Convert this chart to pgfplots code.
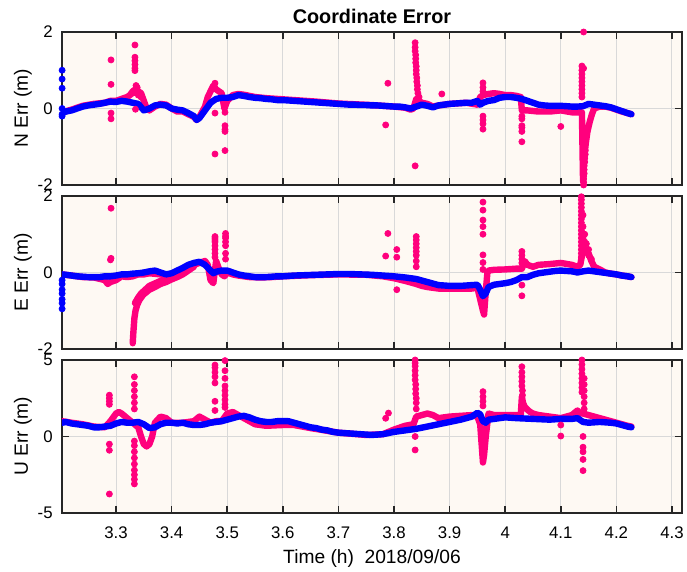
\documentclass[border=0pt]{standalone}
\usepackage{fontspec}
\setmainfont{Liberation Sans}
\usepackage{pgfplots}
\pgfplotsset{compat=1.18}
\definecolor{pk}{RGB}{255,0,125}
\definecolor{bl}{RGB}{0,0,255}
\definecolor{bgc}{RGB}{254,249,243}
\definecolor{axc}{RGB}{38,38,38}
\pgfplotsset{
  panel/.style={
    scale only axis, width=310pt, height=76.5pt,
    xmin=3.2028, xmax=4.318,
    xtick={3.3,3.4,3.5,3.6,3.7,3.8,3.9,4,4.1,4.2,4.3},
    xticklabels={},
    axis background/.style={fill=bgc},
    axis line style={axc, line width=0.75pt},
    tick style={axc, line width=0.75pt},
    major tick length=3.5pt,
    tick align=inside,
    grid=major,
    major grid style={black!15, line width=0.5pt},
    yticklabel style={font=\fontsize{8.4}{10}\selectfont, anchor=east, inner xsep=0pt, xshift=-4.5pt},
    xticklabel style={font=\fontsize{8.4}{10}\selectfont, anchor=base, yshift=-13pt},
    every axis y label/.style={at={(axis description cs:-0.0629,0.5)}, rotate=90, anchor=center, font=\fontsize{9.6}{11}\selectfont},
  },
  base/.style={line width=3.2pt, line join=round, line cap=round, no marks},
  dots/.style={only marks, mark=*, mark size=1.5pt, mark options={draw=none}},
}
\begin{document}
\begin{tikzpicture}
\path[use as bounding box] (-31pt,-29.5pt) rectangle (312.5pt,256.5pt);
% ---------------- N ----------------
\begin{axis}[panel, at={(0pt,164pt)}, anchor=south west,
  ymin=-2, ymax=2, ytick={-2,0,2}, yticklabels={-2,0,2},
  ylabel={N Err (m)},
  title={\textbf{Coordinate Error}},
  every axis title/.style={at={(axis description cs:0.5,1)}, anchor=base, yshift=4pt, font=\fontsize{9.9}{11}\selectfont}]
\addplot[pk, base] coordinates {
(3.203,-0.1)(3.22,-0.03)(3.24,0.07)(3.26,0.12)(3.28,0.15)(3.29,0.2)(3.30,0.2)(3.31,0.25)(3.32,0.3)(3.325,0.35)(3.33,0.45)(3.335,0.5)(3.34,0.45)(3.345,0.4)(3.35,0.2)(3.355,0.0)(3.36,-0.05)(3.37,0.05)(3.38,0.12)(3.39,0.1)(3.40,0.0)(3.41,-0.08)(3.42,-0.08)(3.43,-0.15)(3.44,-0.22)(3.445,-0.3)(3.45,-0.22)(3.46,0.05)(3.465,0.3)(3.47,0.45)(3.475,0.6)(3.48,0.5)(3.485,0.45)(3.49,0.4)(3.495,0.0)(3.50,0.2)(3.51,0.35)(3.52,0.38)(3.53,0.36)(3.54,0.33)(3.55,0.3)(3.57,0.27)(3.60,0.24)(3.63,0.21)(3.66,0.18)(3.70,0.13)(3.73,0.11)(3.76,0.09)(3.80,0.05)(3.82,0.02)(3.83,-0.03)(3.835,0.0)(3.84,0.25)(3.845,0.2)(3.85,0.15)(3.86,0.12)(3.87,0.05)(3.88,0.08)(3.90,0.12)(3.93,0.15)(3.95,0.1)(3.955,0.3)(3.96,0.35)(3.97,0.38)(3.98,0.4)(3.99,0.38)(4.00,0.35)(4.01,0.35)(4.02,0.33)(4.028,0.3)(4.03,-0.05)(4.04,-0.05)(4.06,-0.08)(4.08,-0.08)(4.10,-0.05)(4.12,-0.1)(4.13,-0.1)(4.138,-0.1)(4.14,-1.9)(4.142,-1.3)(4.145,-0.9)(4.148,-0.6)(4.152,-0.35)(4.156,-0.15)(4.16,0.0)(4.17,0.05)(4.18,0.05)(4.19,0.02)(4.20,-0.03)(4.21,-0.08)(4.22,-0.12)(4.227,-0.15)
};
\addplot[pk, dots] coordinates {
(3.291,1.27)(3.291,0.63)(3.291,-0.12)(3.291,-0.27)
(3.334,1.66)(3.334,1.34)(3.334,1.25)(3.334,1.15)(3.334,1.05)(3.334,0.99)(3.336,0.6)(3.338,0.55)(3.33,0.4)(3.34,0.35)(3.345,0.3)(3.335,-0.02)
(3.478,-0.12)(3.478,-1.19)(3.478,0.66)(3.496,-0.1)(3.496,-0.45)(3.496,-0.55)(3.496,-0.6)(3.496,-1.1)
(3.785,-0.43)(3.789,0.66)(3.886,0.38)
(3.838,1.72)(3.838,1.6)(3.838,1.5)(3.839,1.4)(3.839,1.3)(3.839,1.2)(3.84,1.1)(3.84,1.0)(3.84,0.9)(3.841,0.8)(3.841,0.7)(3.842,0.6)(3.842,0.5)(3.843,0.4)(3.845,0.3)(3.838,-1.5)
(3.96,0.67)(3.96,0.55)(3.96,0.45)(3.96,-0.2)(3.96,-0.3)(3.96,-0.4)(3.96,-0.54)
(4.03,-0.2)(4.03,-0.27)(4.03,-0.45)(4.03,-0.5)(4.03,-0.6)(4.03,-0.87)
(4.10,-0.47)
(4.138,1.11)(4.138,1.0)(4.138,0.9)(4.138,0.8)(4.138,0.7)(4.138,0.6)(4.138,0.5)(4.138,0.4)(4.138,0.3)(4.141,1.05)
(4.141,2.0)(4.141,-2.0)(4.141,-1.93)(4.141,-1.84)(4.141,-1.77)(4.142,-1.7)(4.142,-1.6)(4.142,-1.5)(4.143,-1.4)(4.143,-1.3)(4.144,-1.2)(4.144,-1.1)
};
\addplot[bl, base] coordinates {
(3.203,-0.12)(3.21,-0.08)(3.22,-0.05)(3.23,0.0)(3.24,0.05)(3.25,0.08)(3.26,0.1)(3.27,0.12)(3.28,0.15)(3.29,0.18)(3.30,0.17)(3.31,0.2)(3.32,0.18)(3.33,0.15)(3.34,0.12)(3.35,-0.05)(3.36,0.0)(3.37,0.08)(3.38,0.1)(3.39,0.08)(3.40,0.0)(3.41,-0.03)(3.42,-0.05)(3.43,-0.12)(3.44,-0.2)(3.445,-0.3)(3.45,-0.25)(3.46,-0.05)(3.47,0.15)(3.48,0.25)(3.49,0.28)(3.50,0.28)(3.51,0.3)(3.52,0.35)(3.53,0.33)(3.54,0.3)(3.55,0.28)(3.56,0.27)(3.57,0.25)(3.58,0.24)(3.59,0.22)(3.60,0.22)(3.61,0.21)(3.62,0.2)(3.63,0.19)(3.64,0.18)(3.65,0.17)(3.66,0.16)(3.67,0.15)(3.68,0.14)(3.69,0.13)(3.70,0.12)(3.71,0.11)(3.72,0.1)(3.73,0.1)(3.74,0.09)(3.75,0.09)(3.76,0.08)(3.77,0.08)(3.78,0.07)(3.79,0.06)(3.80,0.05)(3.81,0.05)(3.82,0.03)(3.83,0.0)(3.84,0.05)(3.85,0.1)(3.86,0.07)(3.87,0.03)(3.88,0.08)(3.89,0.1)(3.90,0.12)(3.91,0.13)(3.92,0.14)(3.93,0.15)(3.94,0.15)(3.95,0.2)(3.955,0.1)(3.96,0.15)(3.97,0.2)(3.98,0.22)(3.99,0.28)(4.00,0.3)(4.01,0.3)(4.02,0.28)(4.03,0.25)(4.04,0.2)(4.05,0.15)(4.06,0.1)(4.07,0.08)(4.08,0.07)(4.09,0.07)(4.10,0.07)(4.11,0.06)(4.12,0.05)(4.13,0.05)(4.14,0.06)(4.15,0.12)(4.16,0.1)(4.17,0.08)(4.18,0.06)(4.19,0.03)(4.20,-0.02)(4.21,-0.07)(4.22,-0.12)(4.227,-0.15)
};
\addplot[bl, dots] coordinates {
(3.203,1.0)(3.203,0.77)(3.203,0.53)(3.203,0.0)(3.203,-0.15)(3.203,-0.2)
};
\end{axis}
% ---------------- E ----------------
\begin{axis}[panel, at={(0pt,82pt)}, anchor=south west,
  ymin=-2, ymax=2, ytick={-2,0,2}, yticklabels={-2,0,2},
  ylabel={E Err (m)}]
\addplot[pk, base] coordinates {
(3.203,-0.05)(3.22,-0.08)(3.24,-0.12)(3.26,-0.13)(3.28,-0.2)(3.285,-0.3)(3.29,-0.25)(3.30,-0.2)(3.31,-0.1)(3.32,-0.12)(3.33,-0.1)(3.34,-0.05)(3.35,-0.05)(3.36,-0.02)(3.38,-0.05)(3.40,-0.05)(3.42,0.05)(3.44,0.2)(3.45,0.25)(3.46,0.3)(3.465,0.2)(3.47,-0.2)(3.475,-0.28)(3.48,0.3)(3.485,0.1)(3.49,-0.05)(3.495,-0.1)(3.50,0.0)(3.51,-0.05)(3.52,-0.08)(3.53,-0.1)(3.54,-0.12)(3.56,-0.13)(3.58,-0.12)(3.60,-0.1)(3.65,-0.07)(3.70,-0.05)(3.75,-0.06)(3.78,-0.1)(3.80,-0.15)(3.82,-0.22)(3.84,-0.3)(3.85,-0.35)(3.86,-0.38)(3.88,-0.42)(3.90,-0.42)(3.92,-0.42)(3.94,-0.42)(3.95,-0.4)(3.955,-0.7)(3.96,-1.0)(3.962,-1.1)(3.965,-0.5)(3.968,0.0)(3.97,0.05)(3.98,0.07)(4.00,0.08)(4.02,0.1)(4.03,0.1)(4.035,0.3)(4.04,0.2)(4.05,0.15)(4.06,0.2)(4.08,0.22)(4.10,0.25)(4.12,0.2)(4.13,0.15)(4.135,0.2)(4.14,0.6)(4.15,0.5)(4.155,0.3)(4.16,0.15)(4.17,0.08)(4.18,0.0)(4.19,-0.03)(4.20,-0.05)(4.21,-0.08)(4.22,-0.1)(4.227,-0.12)
};
\addplot[pk, base] coordinates {
(3.33,-1.85)(3.331,-1.6)(3.332,-1.4)(3.333,-1.2)(3.335,-1.0)(3.338,-0.85)(3.342,-0.72)(3.349,-0.58)(3.36,-0.45)(3.37,-0.38)(3.38,-0.3)(3.39,-0.25)(3.40,-0.18)(3.41,-0.12)(3.42,-0.05)(3.43,0.05)(3.44,0.15)
};
\addplot[pk, base] coordinates {
(3.334,-0.8)(3.34,-0.65)(3.345,-0.55)(3.36,-0.35)(3.38,-0.22)(3.40,-0.1)(3.41,-0.05)
};
\addplot[pk, dots] coordinates {
(3.291,1.68)(3.291,0.37)(3.29,0.33)
(3.478,0.94)(3.478,0.9)(3.478,0.85)(3.478,0.8)(3.478,0.7)(3.478,0.6)(3.478,0.5)(3.478,0.4)
(3.497,1.02)(3.497,0.95)(3.497,0.9)(3.497,0.8)(3.497,0.7)(3.497,0.5)(3.497,0.35)
(3.789,1.02)(3.785,0.43)(3.805,0.6)(3.805,0.4)(3.805,-0.45)
(3.84,0.94)(3.84,0.85)(3.84,0.75)(3.84,0.65)(3.84,0.55)(3.84,0.45)(3.84,0.3)(3.84,0.15)
(3.96,1.84)(3.96,1.63)(3.96,1.37)(3.96,1.2)(3.96,1.0)(3.96,0.46)(3.96,0.26)(3.96,0.08)
(4.03,0.55)(4.03,0.45)(4.03,0.35)(4.03,0.25)(4.03,-0.33)(4.03,-0.61)
(4.137,1.98)(4.137,1.9)(4.137,1.8)(4.137,1.7)(4.137,1.6)(4.137,1.5)(4.137,1.4)(4.137,1.3)(4.137,1.2)(4.137,1.1)(4.137,1.0)(4.137,0.9)(4.137,0.8)(4.137,0.7)(4.137,0.6)(4.137,0.5)(4.137,0.4)
(4.14,1.5)(4.14,1.2)(4.14,0.9)(4.143,1.0)(4.143,0.8)(4.143,0.6)(4.146,0.75)(4.15,0.6)(4.15,0.45)(4.155,0.35)
};
\addplot[bl, base] coordinates {
(3.203,-0.05)(3.21,-0.06)(3.22,-0.08)(3.23,-0.1)(3.24,-0.11)(3.25,-0.12)(3.26,-0.12)(3.27,-0.12)(3.28,-0.1)(3.29,-0.1)(3.30,-0.08)(3.31,-0.05)(3.32,-0.05)(3.33,-0.03)(3.34,-0.02)(3.35,0.0)(3.36,0.03)(3.37,0.05)(3.38,0.0)(3.39,-0.05)(3.40,-0.02)(3.41,0.05)(3.42,0.12)(3.43,0.2)(3.44,0.25)(3.45,0.28)(3.46,0.2)(3.47,0.05)(3.475,-0.02)(3.48,0.02)(3.49,0.05)(3.50,0.05)(3.51,0.0)(3.52,-0.05)(3.53,-0.08)(3.54,-0.1)(3.55,-0.12)(3.56,-0.12)(3.57,-0.12)(3.58,-0.11)(3.59,-0.1)(3.60,-0.1)(3.62,-0.08)(3.64,-0.07)(3.66,-0.06)(3.68,-0.05)(3.70,-0.04)(3.72,-0.04)(3.74,-0.05)(3.76,-0.06)(3.78,-0.08)(3.80,-0.1)(3.82,-0.13)(3.84,-0.17)(3.86,-0.25)(3.88,-0.33)(3.90,-0.35)(3.92,-0.35)(3.94,-0.33)(3.95,-0.32)(3.955,-0.45)(3.96,-0.62)(3.965,-0.55)(3.97,-0.38)(3.98,-0.32)(3.99,-0.3)(4.00,-0.28)(4.01,-0.25)(4.02,-0.2)(4.03,-0.12)(4.04,-0.12)(4.05,-0.06)(4.06,-0.02)(4.07,0.0)(4.08,0.02)(4.09,0.04)(4.10,0.05)(4.11,0.04)(4.12,0.03)(4.13,0.0)(4.14,0.03)(4.15,0.05)(4.16,0.03)(4.17,0.01)(4.18,-0.01)(4.19,-0.03)(4.20,-0.05)(4.21,-0.08)(4.22,-0.1)(4.227,-0.12)
};
\addplot[bl, dots] coordinates {
(3.203,-0.2)(3.203,-0.3)(3.203,-0.45)(3.203,-0.55)(3.203,-0.7)(3.203,-0.8)(3.203,-0.95)
};
\end{axis}
% ---------------- U ----------------
\begin{axis}[panel, at={(0pt,0pt)}, anchor=south west,
  ymin=-5, ymax=5, ytick={-5,0,5}, yticklabels={-5,0,5},
  xticklabels={3.3,3.4,3.5,3.6,3.7,3.8,3.9,4,4.1,4.2,4.3},
  ylabel={U Err (m)},
  xlabel={Time (h)\ \ 2018/09/06},
  every axis x label/.style={at={(axis description cs:0.5,0)}, anchor=base, yshift=-25.5pt, font=\fontsize{9.6}{11}\selectfont}]
\addplot[pk, base] coordinates {
(3.203,1.0)(3.22,0.9)(3.24,0.8)(3.26,0.65)(3.28,0.6)(3.29,1.0)(3.30,1.5)(3.305,1.6)(3.31,1.5)(3.32,1.2)(3.33,0.9)(3.34,0.6)(3.345,0.0)(3.35,-0.5)(3.355,-0.65)(3.36,-0.5)(3.365,0.0)(3.37,0.9)(3.38,1.3)(3.39,1.2)(3.40,0.9)(3.42,0.9)(3.44,1.0)(3.45,1.3)(3.46,1.1)(3.47,0.9)(3.48,1.0)(3.49,1.0)(3.50,1.5)(3.51,1.6)(3.52,1.4)(3.53,1.2)(3.54,1.0)(3.55,0.8)(3.57,0.7)(3.60,0.75)(3.62,0.75)(3.65,0.55)(3.70,0.25)(3.75,0.1)(3.78,0.15)(3.80,0.45)(3.82,0.7)(3.835,0.8)(3.84,1.3)(3.85,1.4)(3.86,1.5)(3.87,1.4)(3.88,1.2)(3.90,1.3)(3.92,1.35)(3.94,1.4)(3.95,1.3)(3.955,0.8)(3.96,-1.7)(3.962,-1.2)(3.965,0.0)(3.97,1.5)(3.98,1.4)(4.00,1.4)(4.02,1.4)(4.028,1.4)(4.03,2.6)(4.032,2.2)(4.035,1.95)(4.04,1.75)(4.045,1.6)(4.05,1.5)(4.06,1.4)(4.08,1.3)(4.10,1.2)(4.12,1.4)(4.13,1.7)(4.135,1.5)(4.14,1.5)(4.15,1.4)(4.16,1.3)(4.17,1.2)(4.18,1.1)(4.20,0.9)(4.21,0.8)(4.22,0.7)(4.227,0.65)
};
\addplot[pk, dots] coordinates {
(3.288,2.7)(3.288,2.5)(3.288,2.3)(3.288,2.1)(3.288,-0.5)(3.288,-0.9)(3.288,-3.76)
(3.333,3.9)(3.333,3.4)(3.333,3.0)(3.333,2.6)(3.333,2.2)(3.333,1.8)(3.333,-0.3)(3.333,-0.6)(3.333,-1.0)(3.333,-1.4)(3.333,-1.8)(3.333,-2.2)(3.333,-2.5)(3.333,-2.8)(3.333,-3.1)
(3.478,4.67)(3.478,4.5)(3.478,4.2)(3.478,3.9)(3.478,3.5)(3.478,2.3)(3.478,1.7)
(3.496,4.96)(3.496,4.3)(3.496,3.8)(3.496,3.3)(3.496,3.0)(3.496,2.7)(3.496,2.4)(3.496,2.1)(3.496,1.9)
(3.785,1.19)(3.79,1.53)
(3.838,5.0)(3.838,4.8)(3.838,4.6)(3.838,4.3)(3.838,4.0)(3.838,3.7)(3.839,3.4)(3.839,3.1)(3.839,2.8)(3.84,2.5)(3.84,2.2)(3.84,1.8)(3.838,0.0)(3.838,-0.88)
(3.96,2.93)(3.96,2.6)(3.96,2.3)(3.96,2.0)
(4.03,4.56)(4.03,4.2)(4.03,3.9)(4.03,3.6)(4.03,3.3)(4.031,3.0)(4.031,2.7)
(4.10,0.75)(4.10,0.03)
(4.138,5.0)(4.138,4.7)(4.138,4.4)(4.138,4.1)(4.138,3.8)(4.138,3.5)(4.138,3.2)(4.138,2.9)
(4.142,3.8)(4.142,3.4)(4.142,3.0)(4.142,2.6)(4.142,2.2)(4.142,1.8)
(4.14,0.0)(4.14,-0.7)(4.14,-1.0)(4.14,-1.5)(4.14,-2.23)
};
\addplot[bl, base] coordinates {
(3.203,0.9)(3.21,0.95)(3.22,0.85)(3.23,0.8)(3.24,0.75)(3.25,0.7)(3.26,0.6)(3.27,0.6)(3.28,0.65)(3.29,0.7)(3.30,0.85)(3.31,0.95)(3.32,0.9)(3.33,0.9)(3.34,0.95)(3.35,0.8)(3.36,0.55)(3.37,0.6)(3.38,0.8)(3.39,0.9)(3.40,0.9)(3.41,0.85)(3.42,0.9)(3.43,0.8)(3.44,0.75)(3.45,0.75)(3.46,0.8)(3.47,0.9)(3.48,0.95)(3.49,1.0)(3.50,1.1)(3.51,1.2)(3.52,1.3)(3.53,1.35)(3.54,1.25)(3.55,1.1)(3.56,1.0)(3.57,0.95)(3.58,0.95)(3.59,1.0)(3.60,1.0)(3.61,1.0)(3.62,0.9)(3.63,0.8)(3.64,0.7)(3.65,0.6)(3.66,0.55)(3.67,0.45)(3.68,0.4)(3.69,0.3)(3.70,0.25)(3.72,0.2)(3.74,0.15)(3.76,0.1)(3.78,0.15)(3.80,0.3)(3.82,0.4)(3.84,0.5)(3.86,0.65)(3.88,0.8)(3.90,0.95)(3.92,1.1)(3.94,1.3)(3.95,1.55)(3.955,1.45)(3.96,1.0)(3.965,0.9)(3.97,1.1)(3.98,1.15)(4.00,1.25)(4.02,1.2)(4.05,1.15)(4.08,1.1)(4.10,1.15)(4.12,1.15)(4.13,1.2)(4.14,0.95)(4.15,0.9)(4.17,0.95)(4.19,0.9)(4.20,0.85)(4.21,0.75)(4.22,0.65)(4.227,0.6)
};
\end{axis}
\end{tikzpicture}
\end{document}
